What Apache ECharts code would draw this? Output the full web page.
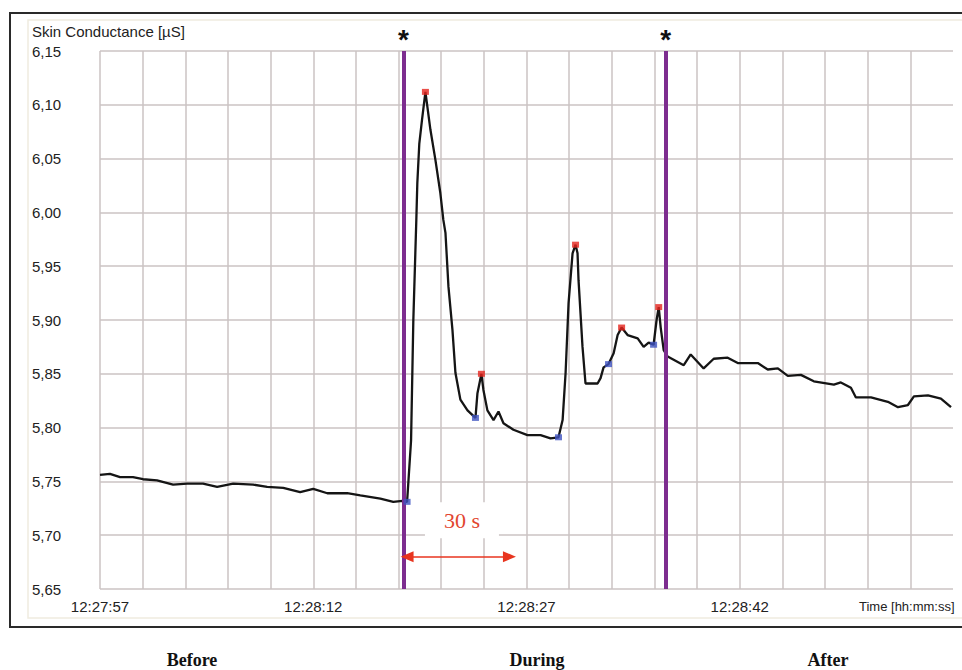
<!DOCTYPE html>
<html>
<head>
<meta charset="utf-8">
<script src="https://cdn.jsdelivr.net/npm/echarts@6/dist/echarts.min.js"></script>
<style>
html,body{margin:0;padding:0;background:#fff;}
#chart{width:962px;height:670px;}
</style>
</head>
<body>
<div id="chart"></div>
<script>
// ---- data (seconds after 12:27:57, skin conductance in µS) ----
var timeSec = [0,0.7,1.41,2.32,3.03,4.01,5.14,6.13,7.25,8.24,
  9.37,10.77,11.76,12.89,14.08,15.0,15.99,17.39,18.31,19.72,
  20.63,21.27,21.6,21.88,22.04,22.18,22.25,22.32,22.46,22.65,
  22.89,23.24,23.59,23.94,24.15,24.30,24.51,24.79,25.0,25.35,
  25.85,26.41,26.55,26.83,26.97,27.25,27.68,28.03,28.38,29.08,
  30.07,30.99,31.69,32.25,32.54,32.75,32.96,33.24,33.45,33.59,
  33.66,33.94,34.15,35.0,35.21,35.42,35.77,36.13,36.41,36.69,
  37.11,37.82,38.24,38.59,38.94,39.15,39.30,39.44,39.65,39.93,
  41.06,41.55,42.46,43.17,44.15,44.86,46.27,46.97,47.68,48.38,
  49.30,50.21,51.62,52.11,52.82,53.17,54.23,55.42,56.13,56.83,
  57.25,58.24,59.15,59.86];
var conductance = [5.756,5.757,5.754,5.754,5.752,5.751,5.747,5.748,5.748,5.745,
  5.748,5.747,5.745,5.744,5.740,5.743,5.739,5.739,5.737,5.734,
  5.731,5.732,5.731,5.788,5.900,5.962,5.993,6.027,6.064,6.086,
  6.112,6.077,6.049,6.018,5.993,5.981,5.931,5.891,5.851,5.826,
  5.816,5.809,5.832,5.850,5.835,5.816,5.807,5.815,5.804,5.798,
  5.793,5.793,5.790,5.791,5.807,5.851,5.916,5.962,5.970,5.962,
  5.937,5.875,5.841,5.841,5.846,5.856,5.859,5.869,5.886,5.893,
  5.886,5.883,5.875,5.879,5.877,5.900,5.912,5.893,5.872,5.866,
  5.858,5.868,5.855,5.864,5.865,5.860,5.860,5.854,5.855,5.848,
  5.849,5.843,5.840,5.842,5.837,5.828,5.828,5.824,5.819,5.821,
  5.829,5.830,5.827,5.819];
var peakTimes = [22.89, 26.83, 33.45, 36.69, 39.30];
var peakValues = [6.112, 5.850, 5.970, 5.893, 5.912];
var onsetTimes = [21.6, 26.41, 32.25, 35.77, 38.94];
var onsetValues = [5.731, 5.809, 5.791, 5.859, 5.877];
var eventTimes = [21.34, 39.79];
var xTickLabels = ['12:27:57', '12:28:12', '12:28:27', '12:28:42'];
var phaseLabels = ['Before', 'During', 'After'];
var arrowSpan = [21.6, 28.8];   // time range of the "30 s" arrow
var arrowLevel = 5.68;
var boxTime = 25.46, boxLevel = 5.714, boxText = '30 s';

// ---- build ----
function zip(a, b) { return a.map(function (v, i) { return [v, b[i]]; }); }

var chart = echarts.init(document.getElementById('chart'), null, {renderer: 'svg'});
var gridColor = '#cbc3c3';
var sans = 'Liberation Sans, Arial, sans-serif';
var serif = 'Liberation Serif, Times New Roman, serif';

chart.setOption({
  animation: false,
  backgroundColor: '#ffffff',
  grid: {left: 100, top: 51, right: 9, bottom: 81, containLabel: false},
  xAxis: {
    type: 'value', min: 0, max: 60, interval: 3,
    axisLine: {show: false}, axisTick: {show: false},
    splitLine: {show: true, showMaxLine: false, lineStyle: {color: gridColor, width: 1.5}},
    axisLabel: {
      margin: 10, color: '#222', fontFamily: sans, fontSize: 15,
      showMaxLabel: false,
      formatter: function (v) {
        var r = Math.round(v);
        if (r % 15 === 0 && r / 15 < xTickLabels.length) return xTickLabels[r / 15];
        return '';
      }
    }
  },
  yAxis: {
    type: 'value', min: 5.65, max: 6.15, interval: 0.05,
    axisLine: {show: false}, axisTick: {show: false},
    splitLine: {show: true, lineStyle: {color: gridColor, width: 1.5}},
    axisLabel: {
      margin: 68, align: 'left', color: '#222', fontFamily: sans, fontSize: 15,
      formatter: function (v) { return v.toFixed(2).replace('.', ','); }
    }
  },
  series: [
    {
      name: 'annotations', type: 'line', data: [], z: 1,
      markPoint: {
        silent: true,
        data: [{coord: [boxTime, boxLevel], symbol: 'rect', symbolSize: [74, 36],
          itemStyle: {color: '#ffffff'},
          label: {show: true, position: 'inside', formatter: boxText, color: '#e2452f',
            fontFamily: serif, fontSize: 22}}]
      }
    },
    {
      name: 'Skin Conductance', type: 'line', data: zip(timeSec, conductance),
      showSymbol: false, symbol: 'none', z: 3,
      lineStyle: {color: '#151515', width: 2.3}
    },
    {
      name: 'events', type: 'line', data: [], z: 6,
      markLine: {
        silent: true, symbol: ['none', 'none'],
        lineStyle: {color: '#7d2d8f', width: 4, type: 'solid'},
        label: {show: true, position: 'end', formatter: '*', color: '#111',
          fontSize: 28, fontWeight: 'bold', fontFamily: sans, distance: -2},
        data: eventTimes.map(function (t) { return {xAxis: t}; })
      }
    },
    {
      name: 'arrow', type: 'line', data: [], z: 6,
      markLine: {
        silent: true, symbol: ['triangle', 'triangle'], symbolSize: [11, 13],
        lineStyle: {color: '#e8351f', width: 1.5, type: 'solid'},
        itemStyle: {color: '#e8351f'},
        label: {show: false},
        data: [[{coord: [arrowSpan[0], arrowLevel]}, {coord: [arrowSpan[1], arrowLevel]}]]
      }
    },
    {
      name: 'peaks', type: 'scatter', data: zip(peakTimes, peakValues), z: 7,
      symbol: 'rect', symbolSize: [7, 6], itemStyle: {color: '#e5231b'}
    },
    {
      name: 'onsets', type: 'scatter', data: zip(onsetTimes, onsetValues), z: 7,
      symbol: 'rect', symbolSize: [7, 6], itemStyle: {color: '#3e52c0'}
    }
  ],
  graphic: [
    {type: 'rect', shape: {x: 28, y: 20, width: 950, height: 598},
      style: {fill: 'none', stroke: '#f0ece0', lineWidth: 1.5}, z: -1},
    {type: 'rect', shape: {x: 10, y: 13, width: 980, height: 614},
      style: {fill: 'none', stroke: '#2a2a2a', lineWidth: 2}, z: 10},
    {type: 'text', left: 32, top: 24,
      style: {text: 'Skin Conductance [µS]', fill: '#222', font: '15px ' + sans}},
    {type: 'text', left: 859, top: 600,
      style: {text: 'Time [hh:mm:ss]', fill: '#222', font: '13px ' + sans}},
    {type: 'text', x: 192, y: 660,
      style: {text: phaseLabels[0], fill: '#111', font: 'bold 18px ' + serif, textAlign: 'center', textVerticalAlign: 'middle'}},
    {type: 'text', x: 537, y: 660,
      style: {text: phaseLabels[1], fill: '#111', font: 'bold 18px ' + serif, textAlign: 'center', textVerticalAlign: 'middle'}},
    {type: 'text', x: 828, y: 660,
      style: {text: phaseLabels[2], fill: '#111', font: 'bold 18px ' + serif, textAlign: 'center', textVerticalAlign: 'middle'}}
  ]
});
</script>
</body>
</html>
